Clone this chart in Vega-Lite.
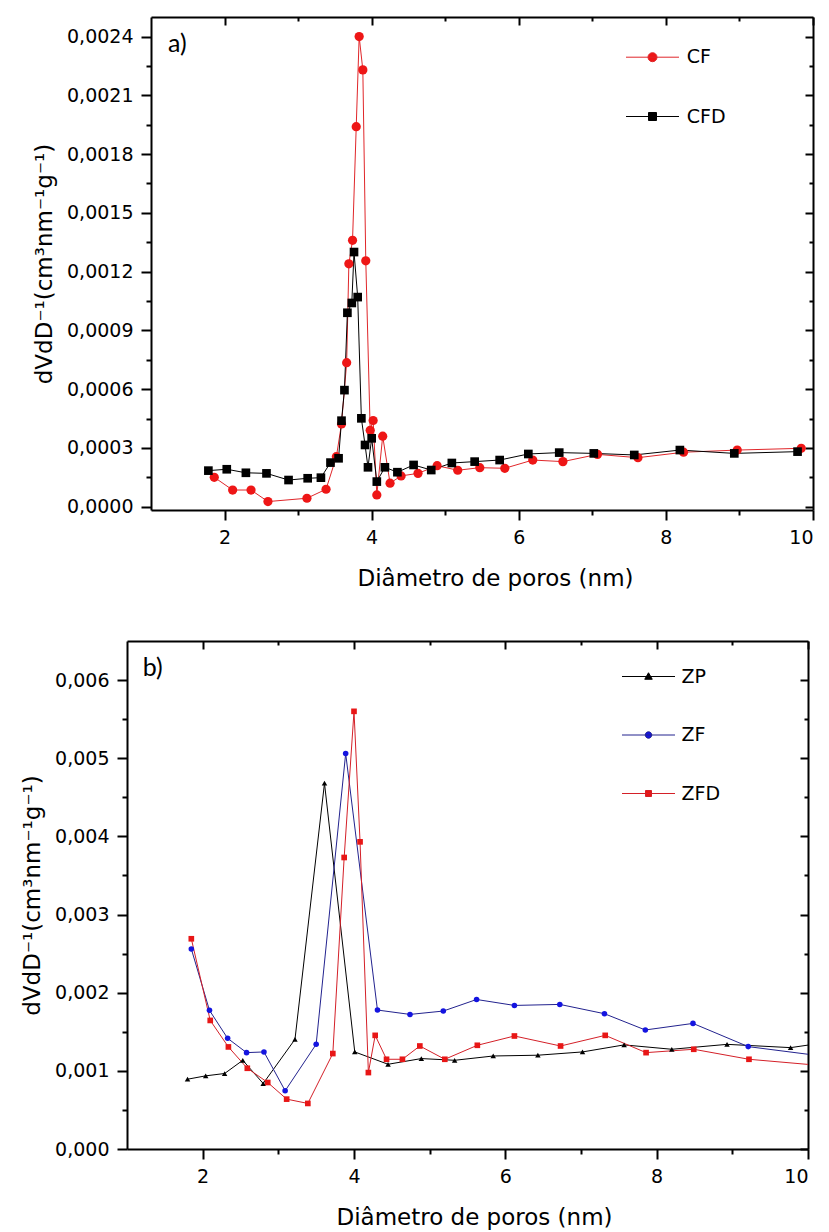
{
  "$schema": "https://vega.github.io/schema/vega-lite/v6.json",
  "padding": {"left": 21, "top": 16, "right": 5, "bottom": 2},
  "background": "white",
  "datasets": {
    "A": [
      {"d": 1.86, "v": 0.00015, "s": "CF"}, {"d": 2.11, "v": 0.000085, "s": "CF"}, {"d": 2.36, "v": 0.000085, "s": "CF"},
      {"d": 2.59, "v": 0.000026, "s": "CF"}, {"d": 3.12, "v": 0.000043, "s": "CF"}, {"d": 3.38, "v": 0.000089, "s": "CF"},
      {"d": 3.52, "v": 0.000255, "s": "CF"}, {"d": 3.59, "v": 0.000422, "s": "CF"}, {"d": 3.66, "v": 0.000735, "s": "CF"},
      {"d": 3.69, "v": 0.00124, "s": "CF"}, {"d": 3.74, "v": 0.00136, "s": "CF"}, {"d": 3.79, "v": 0.00194, "s": "CF"},
      {"d": 3.83, "v": 0.0024, "s": "CF"}, {"d": 3.88, "v": 0.00223, "s": "CF"}, {"d": 3.92, "v": 0.001255, "s": "CF"},
      {"d": 3.98, "v": 0.00039, "s": "CF"}, {"d": 4.02, "v": 0.00044, "s": "CF"}, {"d": 4.07, "v": 0.00006, "s": "CF"},
      {"d": 4.15, "v": 0.00036, "s": "CF"}, {"d": 4.25, "v": 0.00012, "s": "CF"}, {"d": 4.40, "v": 0.000157, "s": "CF"},
      {"d": 4.63, "v": 0.00017, "s": "CF"}, {"d": 4.89, "v": 0.000209, "s": "CF"}, {"d": 5.17, "v": 0.000186, "s": "CF"},
      {"d": 5.47, "v": 0.000199, "s": "CF"}, {"d": 5.81, "v": 0.000196, "s": "CF"}, {"d": 6.19, "v": 0.000238, "s": "CF"},
      {"d": 6.60, "v": 0.00023, "s": "CF"}, {"d": 7.07, "v": 0.000267, "s": "CF"}, {"d": 7.62, "v": 0.00025, "s": "CF"},
      {"d": 8.24, "v": 0.000278, "s": "CF"}, {"d": 8.97, "v": 0.000289, "s": "CF"}, {"d": 9.84, "v": 0.000298, "s": "CF"},
      {"d": 1.78, "v": 0.000184, "s": "CFD"}, {"d": 2.03, "v": 0.000191, "s": "CFD"}, {"d": 2.29, "v": 0.000173, "s": "CFD"},
      {"d": 2.57, "v": 0.00017, "s": "CFD"}, {"d": 2.87, "v": 0.000136, "s": "CFD"}, {"d": 3.13, "v": 0.000145, "s": "CFD"},
      {"d": 3.31, "v": 0.000148, "s": "CFD"}, {"d": 3.44, "v": 0.000225, "s": "CFD"}, {"d": 3.55, "v": 0.000247, "s": "CFD"},
      {"d": 3.59, "v": 0.000439, "s": "CFD"}, {"d": 3.63, "v": 0.000595, "s": "CFD"}, {"d": 3.67, "v": 0.00099, "s": "CFD"},
      {"d": 3.73, "v": 0.00104, "s": "CFD"}, {"d": 3.76, "v": 0.0013, "s": "CFD"}, {"d": 3.81, "v": 0.00107, "s": "CFD"},
      {"d": 3.86, "v": 0.000451, "s": "CFD"}, {"d": 3.91, "v": 0.000315, "s": "CFD"}, {"d": 3.95, "v": 0.000201, "s": "CFD"},
      {"d": 4.00, "v": 0.000349, "s": "CFD"}, {"d": 4.07, "v": 0.000128, "s": "CFD"}, {"d": 4.18, "v": 0.000201, "s": "CFD"},
      {"d": 4.35, "v": 0.000176, "s": "CFD"}, {"d": 4.57, "v": 0.000213, "s": "CFD"}, {"d": 4.81, "v": 0.000187, "s": "CFD"},
      {"d": 5.09, "v": 0.000223, "s": "CFD"}, {"d": 5.40, "v": 0.00023, "s": "CFD"}, {"d": 5.74, "v": 0.000238, "s": "CFD"},
      {"d": 6.13, "v": 0.000269, "s": "CFD"}, {"d": 6.55, "v": 0.000276, "s": "CFD"}, {"d": 7.02, "v": 0.000272, "s": "CFD"},
      {"d": 7.57, "v": 0.000264, "s": "CFD"}, {"d": 8.19, "v": 0.000289, "s": "CFD"}, {"d": 8.93, "v": 0.000272, "s": "CFD"},
      {"d": 9.79, "v": 0.000281, "s": "CFD"}
    ],
    "B": [
      {"d": 1.80, "v": 0.000893, "s": "ZP"}, {"d": 2.04, "v": 0.000936, "s": "ZP"}, {"d": 2.29, "v": 0.000966, "s": "ZP"},
      {"d": 2.53, "v": 0.001135, "s": "ZP"}, {"d": 2.80, "v": 0.000838, "s": "ZP"}, {"d": 3.22, "v": 0.001403, "s": "ZP"},
      {"d": 3.61, "v": 0.00468, "s": "ZP"}, {"d": 4.01, "v": 0.001242, "s": "ZP"}, {"d": 4.45, "v": 0.001084, "s": "ZP"},
      {"d": 4.89, "v": 0.001157, "s": "ZP"}, {"d": 5.33, "v": 0.001135, "s": "ZP"}, {"d": 5.84, "v": 0.00119, "s": "ZP"},
      {"d": 6.43, "v": 0.0012, "s": "ZP"}, {"d": 7.02, "v": 0.001242, "s": "ZP"}, {"d": 7.57, "v": 0.001332, "s": "ZP"},
      {"d": 8.20, "v": 0.001276, "s": "ZP"}, {"d": 8.93, "v": 0.001339, "s": "ZP"}, {"d": 9.77, "v": 0.001297, "s": "ZP"},
      {"d": 10.5, "v": 0.0014, "s": "ZP"},
      {"d": 1.85, "v": 0.00256, "s": "ZF"}, {"d": 2.09, "v": 0.001774, "s": "ZF"}, {"d": 2.33, "v": 0.001416, "s": "ZF"},
      {"d": 2.58, "v": 0.001233, "s": "ZF"}, {"d": 2.81, "v": 0.001242, "s": "ZF"}, {"d": 3.09, "v": 0.000745, "s": "ZF"},
      {"d": 3.50, "v": 0.00134, "s": "ZF"}, {"d": 3.89, "v": 0.00506, "s": "ZF"}, {"d": 4.31, "v": 0.001778, "s": "ZF"},
      {"d": 4.74, "v": 0.001722, "s": "ZF"}, {"d": 5.18, "v": 0.001765, "s": "ZF"}, {"d": 5.62, "v": 0.001913, "s": "ZF"},
      {"d": 6.12, "v": 0.001837, "s": "ZF"}, {"d": 6.72, "v": 0.00185, "s": "ZF"}, {"d": 7.31, "v": 0.001731, "s": "ZF"},
      {"d": 7.85, "v": 0.001523, "s": "ZF"}, {"d": 8.48, "v": 0.001607, "s": "ZF"}, {"d": 9.21, "v": 0.00131, "s": "ZF"},
      {"d": 10.5, "v": 0.00115, "s": "ZF"},
      {"d": 1.85, "v": 0.00269, "s": "ZFD"}, {"d": 2.10, "v": 0.001645, "s": "ZFD"}, {"d": 2.34, "v": 0.001306, "s": "ZFD"},
      {"d": 2.59, "v": 0.001033, "s": "ZFD"}, {"d": 2.86, "v": 0.000851, "s": "ZFD"}, {"d": 3.11, "v": 0.000638, "s": "ZFD"},
      {"d": 3.39, "v": 0.000583, "s": "ZFD"}, {"d": 3.72, "v": 0.001221, "s": "ZFD"}, {"d": 3.87, "v": 0.00373, "s": "ZFD"},
      {"d": 4.00, "v": 0.0056, "s": "ZFD"}, {"d": 4.08, "v": 0.00393, "s": "ZFD"}, {"d": 4.19, "v": 0.000978, "s": "ZFD"},
      {"d": 4.28, "v": 0.001454, "s": "ZFD"}, {"d": 4.43, "v": 0.001148, "s": "ZFD"}, {"d": 4.64, "v": 0.001148, "s": "ZFD"},
      {"d": 4.87, "v": 0.001318, "s": "ZFD"}, {"d": 5.20, "v": 0.001148, "s": "ZFD"}, {"d": 5.63, "v": 0.001327, "s": "ZFD"},
      {"d": 6.12, "v": 0.001446, "s": "ZFD"}, {"d": 6.73, "v": 0.001318, "s": "ZFD"}, {"d": 7.32, "v": 0.001454, "s": "ZFD"},
      {"d": 7.86, "v": 0.001233, "s": "ZFD"}, {"d": 8.49, "v": 0.001276, "s": "ZFD"}, {"d": 9.22, "v": 0.001148, "s": "ZFD"},
      {"d": 10.5, "v": 0.00104, "s": "ZFD"}
    ]
  },
  "spacing": 50,
  "vconcat": [
    {
      "width": 686,
      "height": 493,
      "data": {"name": "A"},
      "layer": [
        {
          "mark": {"type": "line", "strokeWidth": 1, "clip": true},
          "encoding": {
            "x": {"field": "d", "type": "quantitative", "scale": {"domain": [1, 10], "range": [24, 686], "nice": false, "zero": false},
              "axis": {"orient": "bottom", "values": [2, 4, 6, 8, 10], "tickSize": 10, "labelPadding": 8, "title": "Diâmetro de poros (nm)", "titlePadding": 20, "titleX": 368}},
            "y": {"field": "v", "type": "quantitative", "scale": {"domain": [-0.000017, 0.0025], "nice": false, "zero": false},
              "axis": {"orient": "left", "offset": -24, "values": [0, 0.0003, 0.0006, 0.0009, 0.0012, 0.0015, 0.0018, 0.0021, 0.0024], "labelExpr": "replace(format(datum.value, '.4f'), '.', ',')", "tickSize": 10, "labelPadding": 8, "title": "dVdD⁻¹(cm³nm⁻¹g⁻¹)", "titlePadding": 10}},
            "stroke": {"field": "s", "type": "nominal", "scale": {"domain": ["CFD", "CF"], "range": ["#000000", "#e0262a"]}, "legend": null}
          }
        },
        {
          "mark": {"type": "point", "filled": true, "opacity": 1, "clip": true},
          "encoding": {
            "x": {"field": "d", "type": "quantitative", "axis": {"orient": "top", "values": [2, 4, 6, 8, 10], "labels": false, "tickSize": -8, "title": null}},
            "y": {"field": "v", "type": "quantitative", "axis": {"orient": "right", "values": [0, 0.0003, 0.0006, 0.0009, 0.0012, 0.0015, 0.0018, 0.0021, 0.0024], "labels": false, "tickSize": -8, "title": null}},
            "color": {"field": "s", "type": "nominal", "scale": {"domain": ["CF", "CFD"], "range": ["#ee1616", "#000000"]},
              "legend": {
                "orient": "none", "legendX": 495, "legendY": 30.7, "title": null,
                "symbolSize": 100, "symbolStrokeWidth": 1, "symbolOffset": 21, "labelOffset": 24.7, "rowPadding": 39.3,
                "symbolStrokeColor": {"expr": "datum.value === 'CF' ? '#e0262a' : '#000000'"},
                "symbolType": {"expr": "datum.value === 'CF' ? 'M-5.3,0H5.3M-0.9,0A0.9,0.9,0,1,0,0.9,0A0.9,0.9,0,1,0,-0.9,0Z' : 'M-5.3,0H5.3M-0.8,-0.8H0.8V0.8H-0.8Z'"},
                "labelFont": "DejaVu Sans", "labelFontSize": 19, "labelColor": "black"
              }},
            "shape": {"field": "s", "type": "nominal", "scale": {"domain": ["CFD", "CF"], "range": ["square", "circle"]}, "legend": null},
            "size": {"field": "s", "type": "nominal", "scale": {"domain": ["CFD", "CF"], "range": [75, 85]}, "legend": null}
          }
        },
        {
          "mark": {"type": "point", "opacity": 0},
          "encoding": {
            "x": {"field": "d", "type": "quantitative", "axis": {"orient": "bottom", "values": [3, 5, 7, 9], "labels": false, "domain": false, "tickSize": 5, "title": null}},
            "y": {"field": "v", "type": "quantitative", "axis": {"orient": "left", "offset": -24, "values": [0.00015, 0.00045, 0.00075, 0.00105, 0.00135, 0.00165, 0.00195, 0.00225], "labels": false, "domain": false, "tickSize": 5, "title": null}}
          }
        },
        {
          "mark": {"type": "point", "opacity": 0},
          "encoding": {
            "x": {"field": "d", "type": "quantitative", "axis": {"orient": "top", "values": [3, 5, 7, 9], "labels": false, "domain": false, "tickSize": -4, "title": null}},
            "y": {"field": "v", "type": "quantitative", "axis": {"orient": "right", "values": [0.00015, 0.00045, 0.00075, 0.00105, 0.00135, 0.00165, 0.00195, 0.00225], "labels": false, "domain": false, "tickSize": -4, "title": null}}
          }
        },
        {
          "data": {"values": [{"label": "a)"}]},
          "mark": {"type": "text", "font": "Lato", "fontSize": 25, "align": "left", "baseline": "middle", "color": "black"},
          "encoding": {
            "x": {"datum": 1.23, "type": "quantitative", "axis": null},
            "y": {"datum": 0.00236, "type": "quantitative", "axis": null},
            "text": {"field": "label"}
          }
        }
      ],
      "resolve": {"axis": {"x": "independent", "y": "independent"}}
    },
    {
      "width": 681,
      "height": 508,
      "data": {"name": "B"},
      "layer": [
        {
          "mark": {"type": "line", "strokeWidth": 1, "clip": true},
          "encoding": {
            "x": {"field": "d", "type": "quantitative", "scale": {"domain": [1, 10], "nice": false, "zero": false},
              "axis": {"orient": "bottom", "values": [2, 4, 6, 8, 10], "tickSize": 10, "labelPadding": 8, "title": "Diâmetro de poros (nm)", "titlePadding": 20, "titleX": 347}},
            "y": {"field": "v", "type": "quantitative", "scale": {"domain": [0, 0.0065], "nice": false, "zero": false},
              "axis": {"orient": "left", "values": [0, 0.001, 0.002, 0.003, 0.004, 0.005, 0.006], "labelExpr": "replace(format(datum.value, '.3f'), '.', ',')", "tickSize": 10, "labelPadding": 8, "title": "dVdD⁻¹(cm³nm⁻¹g⁻¹)", "titlePadding": 10}},
            "stroke": {"field": "s", "type": "nominal", "scale": {"domain": ["ZFD", "ZF", "ZP"], "range": ["#d42028", "#22228e", "#000000"]}, "legend": null}
          }
        },
        {
          "mark": {"type": "point", "filled": true, "opacity": 1, "clip": true},
          "encoding": {
            "x": {"field": "d", "type": "quantitative", "axis": {"orient": "top", "values": [2, 4, 6, 8, 10], "labels": false, "tickSize": -8, "title": null}},
            "y": {"field": "v", "type": "quantitative", "axis": {"orient": "right", "values": [0, 0.001, 0.002, 0.003, 0.004, 0.005, 0.006], "labels": false, "tickSize": -8, "title": null}},
            "color": {"field": "s", "type": "nominal", "scale": {"domain": ["ZP", "ZF", "ZFD"], "range": ["#000000", "#1414e0", "#e81616"]},
              "legend": {
                "orient": "none", "legendX": 491, "legendY": 26, "title": null,
                "symbolSize": 100, "symbolStrokeWidth": 1, "symbolOffset": 21, "labelOffset": 23.5, "rowPadding": 38.5,
                "symbolStrokeColor": {"expr": "datum.value === 'ZP' ? '#000000' : datum.value === 'ZF' ? '#22228e' : '#d42028'"},
                "symbolType": {"expr": "datum.value === 'ZP' ? 'M-5.3,0H5.3M0,-0.75L0.75,0.55H-0.75Z' : datum.value === 'ZF' ? 'M-5.3,0H5.3M-0.65,0A0.65,0.65,0,1,0,0.65,0A0.65,0.65,0,1,0,-0.65,0Z' : 'M-5.3,0H5.3M-0.6,-0.6H0.6V0.6H-0.6Z'"},
                "labelFont": "DejaVu Sans", "labelFontSize": 19, "labelColor": "black"
              }},
            "shape": {"field": "s", "type": "nominal", "scale": {"domain": ["ZFD", "ZF", "ZP"], "range": ["square", "circle", "triangle-up"]}, "legend": null},
            "size": {"field": "s", "type": "nominal", "scale": {"domain": ["ZFD", "ZF", "ZP"], "range": [32, 30, 40]}, "legend": null}
          }
        },
        {
          "mark": {"type": "point", "opacity": 0},
          "encoding": {
            "x": {"field": "d", "type": "quantitative", "axis": {"orient": "bottom", "values": [3, 5, 7, 9], "labels": false, "domain": false, "tickSize": 5, "title": null}},
            "y": {"field": "v", "type": "quantitative", "axis": {"orient": "left", "values": [0.0005, 0.0015, 0.0025, 0.0035, 0.0045, 0.0055], "labels": false, "domain": false, "tickSize": 5, "title": null}}
          }
        },
        {
          "mark": {"type": "point", "opacity": 0},
          "encoding": {
            "x": {"field": "d", "type": "quantitative", "axis": {"orient": "top", "values": [3, 5, 7, 9], "labels": false, "domain": false, "tickSize": -4, "title": null}},
            "y": {"field": "v", "type": "quantitative", "axis": {"orient": "right", "values": [0.0005, 0.0015, 0.0025, 0.0035, 0.0045, 0.0055], "labels": false, "domain": false, "tickSize": -4, "title": null}}
          }
        },
        {
          "data": {"values": [{"label": "b)"}]},
          "mark": {"type": "text", "font": "Lato", "fontSize": 25, "align": "left", "baseline": "middle", "color": "black"},
          "encoding": {
            "x": {"datum": 1.207, "type": "quantitative", "axis": null},
            "y": {"datum": 0.00616, "type": "quantitative", "axis": null},
            "text": {"field": "label"}
          }
        }
      ],
      "resolve": {"axis": {"x": "independent", "y": "independent"}}
    }
  ],
  "resolve": {"scale": {"color": "independent", "shape": "independent", "size": "independent", "stroke": "independent"}, "legend": {"color": "independent"}},
  "config": {
    "view": {"stroke": null},
    "axis": {
      "grid": false, "domainColor": "black", "domainWidth": 2, "tickColor": "black", "tickWidth": 2,
      "labelFont": "DejaVu Sans", "labelFontSize": 19, "labelColor": "black",
      "titleFont": "DejaVu Sans", "titleFontSize": 23, "titleFontWeight": "normal", "titleColor": "black"
    }
  }
}
